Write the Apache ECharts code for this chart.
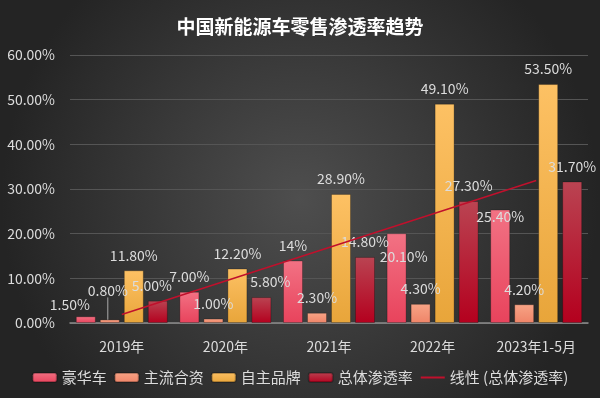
<!DOCTYPE html>
<html>
<head>
<meta charset="utf-8">
<script src="https://cdn.jsdelivr.net/npm/echarts@6/dist/echarts.min.js"></script>
<style>
  html, body { margin: 0; padding: 0; }
  #chart { width: 600px; height: 398px; }
</style>
</head>
<body>
<div id="chart"></div>
<script>
const categories = ['2019年', '2020年', '2021年', '2022年', '2023年1-5月'];
const luxury = [1.5, 7.0, 14.0, 20.1, 25.4];
const jointVenture = [0.8, 1.0, 2.3, 4.3, 4.2];
const domestic = [11.8, 12.2, 28.9, 49.1, 53.5];
const overall = [5.0, 5.8, 14.8, 27.3, 31.7];
// trend line at each category centre
const trend = [1.9, 9.4, 16.9, 24.4, 31.9];
const yTicks = [0, 10, 20, 30, 40, 50, 60];

const FONT = '"Noto Sans CJK SC", "Noto Sans", sans-serif';
const TEXT = '#dcdcdc';

// label nudges in px, [seriesIndex, dataIndex] -> [dx, dy]
const nudges = {
  '0-0': [-16, 3],
  '1-0': [-2, -14],
  '3-0': [-6, 0],
  '3-1': [9, 0],
  '0-3': [7, 38],
  '0-4': [0, 22],
};
// labels pulled away from their bar get a leader line
const leaders = { '1-0': true };

function grad(top, bottom) {
  return new echarts.graphic.LinearGradient(0, 0, 0, 1, [
    { offset: 0, color: top },
    { offset: 1, color: bottom },
  ]);
}

function pct(v) {
  return v === 14 ? '14%' : v.toFixed(2) + '%';
}

function barSeries(name, values, top, bottom, idx) {
  return {
    name,
    type: 'bar',
    data: values.map((v, i) => ({
      value: v,
      labelLine: { show: !!leaders[idx + '-' + i] },
    })),
    barWidth: 20,
    barGap: '20%',
    itemStyle: {
      color: grad(top, bottom),
      borderColor: 'rgba(0,0,0,0.25)',
      borderWidth: 1,
    },
    label: {
      show: true,
      position: 'top',
      distance: 8,
      color: TEXT,
      fontSize: 14,
      fontFamily: FONT,
      formatter: (p) => pct(p.value),
    },
    labelLine: { show: false, lineStyle: { color: '#aaa', width: 1 } },
    labelLayout(params) {
      const n = nudges[idx + '-' + params.dataIndex];
      if (!n) return {};
      return { dx: n[0], dy: n[1] };
    },
  };
}

const chart = echarts.init(document.getElementById('chart'));
chart.setOption({
  backgroundColor: new echarts.graphic.RadialGradient(0.5, 0.5, 0.75, [
    { offset: 0, color: '#4e4e4e' },
    { offset: 1, color: '#242424' },
  ]),
  animation: false,
  textStyle: { fontFamily: FONT },
  title: {
    text: '中国新能源车零售渗透率趋势',
    left: 'center',
    top: 12,
    textStyle: { color: '#fff', fontSize: 19, fontWeight: 'bold', fontFamily: FONT },
  },
  legend: {
    bottom: 8,
    left: 'center',
    itemWidth: 24,
    itemHeight: 9,
    itemGap: 7,
    textStyle: { color: TEXT, fontSize: 15, fontFamily: FONT },
    data: [
      '豪华车',
      '主流合资',
      '自主品牌',
      '总体渗透率',
      { name: '线性 (总体渗透率)', itemStyle: { opacity: 0 } },
    ],
  },
  grid: { left: 70, right: 12, top: 55, bottom: 75 },
  xAxis: {
    type: 'category',
    data: categories,
    axisTick: { show: false },
    axisLine: { lineStyle: { color: '#8c8c8c', width: 1.5 } },
    axisLabel: { color: TEXT, fontSize: 14, margin: 17, fontFamily: FONT },
  },
  yAxis: {
    type: 'value',
    min: yTicks[0],
    max: yTicks[yTicks.length - 1],
    interval: yTicks[1] - yTicks[0],
    axisLabel: {
      color: TEXT,
      fontSize: 14,
      margin: 15,
      fontFamily: FONT,
      formatter: (v) => v.toFixed(2) + '%',
    },
    splitLine: { lineStyle: { color: '#555', width: 1 } },
    axisLine: { show: false },
    axisTick: { show: false },
  },
  series: [
    barSeries('豪华车', luxury, '#f27284', '#e8435c', 0),
    barSeries('主流合资', jointVenture, '#f7a486', '#ef8468', 1),
    barSeries('自主品牌', domestic, '#fdc164', '#e8a53a', 2),
    barSeries('总体渗透率', overall, '#ba4452', '#b4001e', 3),
    {
      name: '线性 (总体渗透率)',
      type: 'line',
      data: trend,
      symbol: 'none',
      z: 3,
      lineStyle: { color: '#c0102c', width: 1.5 },
      itemStyle: { color: '#c0102c' },
    },
  ],
});
</script>
</body>
</html>
